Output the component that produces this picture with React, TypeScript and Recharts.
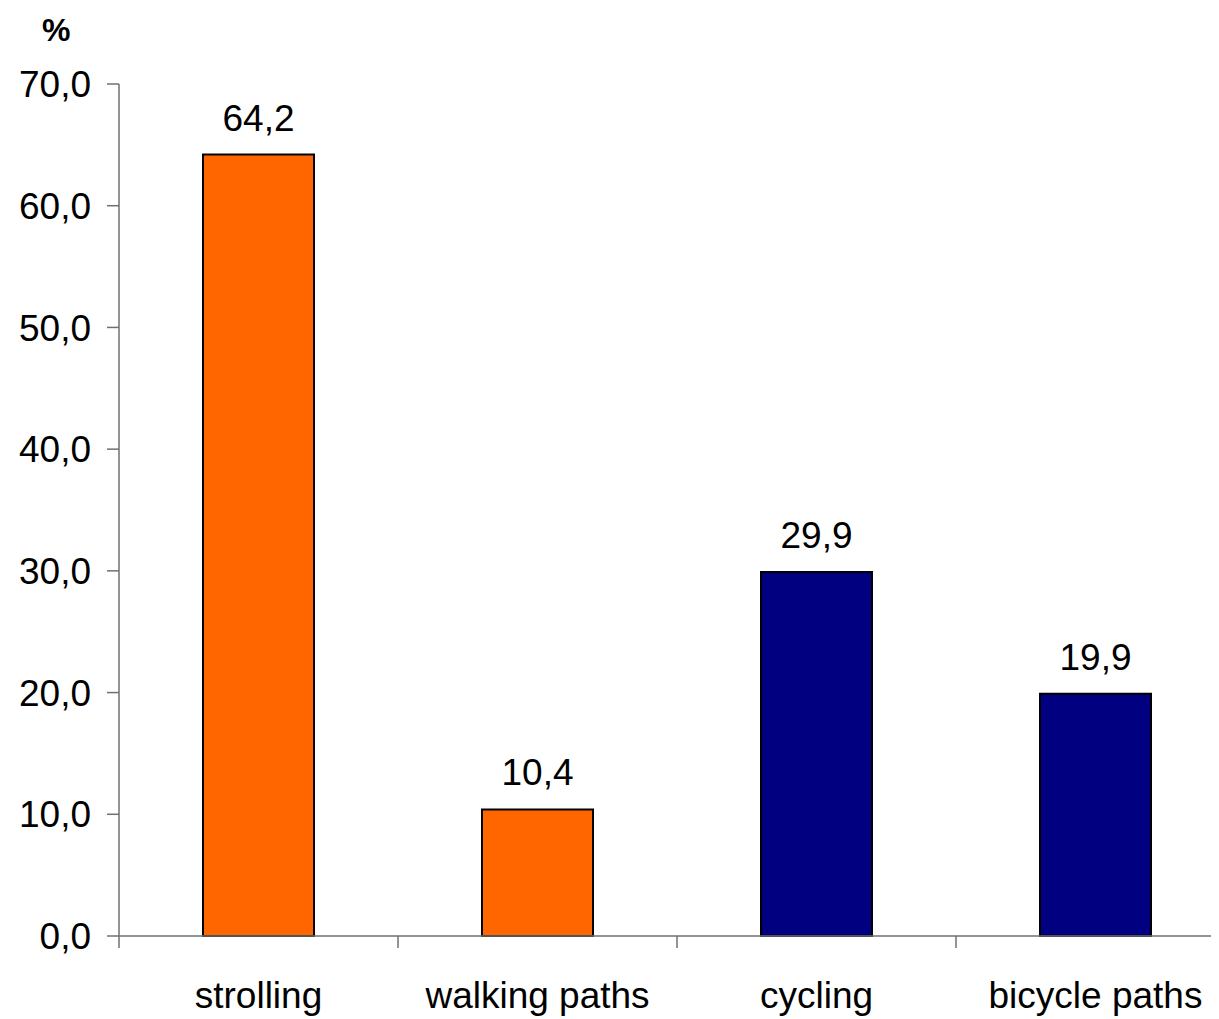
import React from "react";
import {
  BarChart,
  Bar,
  XAxis,
  YAxis,
  Cell,
  LabelList,
} from "recharts";

const categories = ["strolling", "walking paths", "cycling", "bicycle paths"];
const values = [64.2, 10.4, 29.9, 19.9];
const barColors = ["#FF6600", "#FF6600", "#000080", "#000080"];
const yTicks = [0, 10, 20, 30, 40, 50, 60, 70];

const data = categories.map((name, i) => ({
  name,
  value: values[i],
}));

const FONT = '"Liberation Sans", Arial, sans-serif';
const CHART_W = 1240;
const CHART_H = 1010;
const Y_AXIS_W = 111;
const MARGIN_RIGHT = 13;
const BAND = (CHART_W - Y_AXIS_W - MARGIN_RIGHT) / categories.length;

const fmt = (v: number) => v.toFixed(1).replace(".", ",");

function XTick(props: any) {
  const { x, y, payload } = props;
  const left = x - BAND / 2;
  return (
    <g>
      <line x1={left} y1={y} x2={left} y2={y + 12} stroke="#707070" strokeWidth={1.5} />
      <text
        x={x}
        y={y + 72}
        textAnchor="middle"
        fontSize={37}
        fontFamily={FONT}
        fill="#000"
      >
        {payload.value}
      </text>
    </g>
  );
}

export default function App() {
  return (
    <div style={{ position: "relative", width: 1211, height: CHART_H, overflow: "hidden" }}>
      <div
        style={{
          position: "absolute",
          left: 34,
          top: 4,
          fontFamily: FONT,
          fontWeight: "bold",
          fontSize: 32,
          color: "#000",
        }}
      >
        %
      </div>
      <BarChart
        width={CHART_W}
        height={CHART_H}
        data={data}
        margin={{ top: 76, right: MARGIN_RIGHT, bottom: 22, left: 0 }}
        barSize={111}
      >
        <XAxis
          dataKey="name"
          height={60}
          stroke="#707070"
          strokeWidth={1.5}
          tickLine={false}
          tickSize={0}
          tickMargin={0}
          tick={<XTick />}
          interval={0}
        />
        <YAxis
          width={Y_AXIS_W}
          domain={[0, 70]}
          ticks={yTicks}
          tickFormatter={fmt}
          stroke="#707070"
          strokeWidth={1.5}
          tickSize={12}
          tickMargin={16}
          tick={{ fontSize: 37, fontFamily: FONT, fill: "#000" }}
          interval={0}
        />
        <Bar dataKey="value" stroke="#000" strokeWidth={2} isAnimationActive={false}>
          {data.map((d, i) => (
            <Cell key={d.name} fill={barColors[i]} />
          ))}
          <LabelList
            dataKey="value"
            position="top"
            offset={24}
            formatter={(v: any) => fmt(Number(v))}
            style={{ fontSize: 37, fontFamily: FONT, fill: "#000" }}
          />
        </Bar>
      </BarChart>
    </div>
  );
}
